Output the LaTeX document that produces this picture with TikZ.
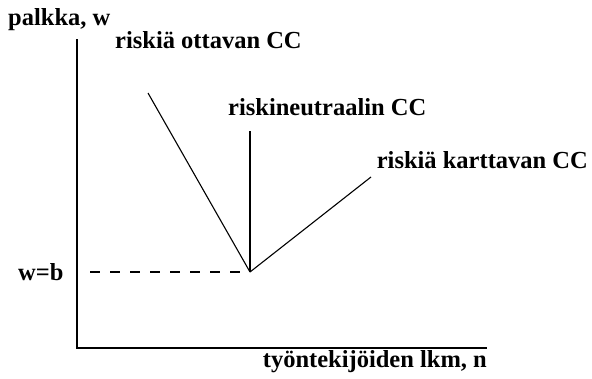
\documentclass[tikz,border=0pt]{standalone}
\usepackage{fontspec}
\setmainfont{Liberation Serif}
\begin{document}
\begin{tikzpicture}[x=1pt,y=-1pt,
  lbl/.style={font=\fontsize{24.5}{29}\selectfont\bfseries, inner sep=0pt, anchor=west},
  ax/.style={line width=1.3pt},
  cc/.style={line width=1.1pt}]
\useasboundingbox (0,0) rectangle (592,378);
\coordinate (top) at (77,39);
\coordinate (origin) at (77,348);
\coordinate (xend) at (487,348);
\coordinate (v) at (250,272);
\coordinate (dstart) at (90,272);
\coordinate (e1) at (148,93);
\coordinate (e2) at (250,131);
\coordinate (e3) at (371,177);
\draw[ax] (top) -- (origin) -- (xend);
\draw[cc, dash pattern=on 10pt off 10pt] (dstart) -- (v);
\draw[cc] (e1) -- (v);
\draw[cc] (e2) -- (v);
\draw[cc] (e3) -- (v);
\node[lbl] (ylab) at (8,20) {palkka, w};
\node[lbl] (l1) at (115,40) {riskiä ottavan CC};
\node[lbl] (l2) at (228,107) {riskineutraalin CC};
\node[lbl, anchor=east] (l3) at (588,160) {riskiä karttavan CC};
\node[lbl] (wb) at (18,272) {w=b};
\node[lbl, anchor=east] (xlab) at (487,362) {työntekijöiden lkm, n};
\end{tikzpicture}
\end{document}
